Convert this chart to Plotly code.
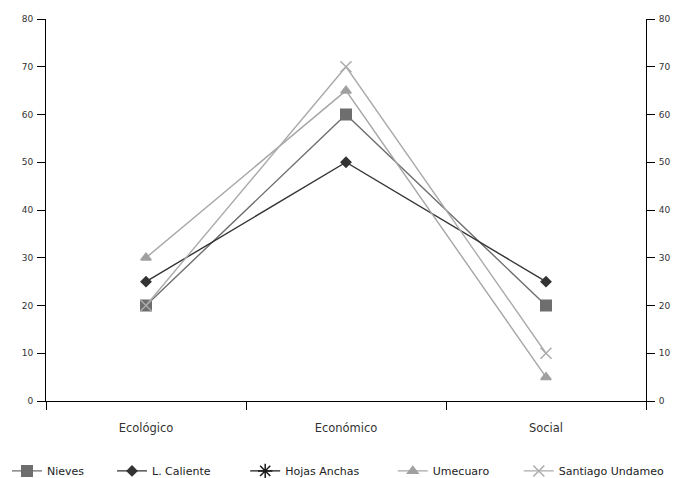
import plotly.graph_objects as go

categories = ["Ecológico", "Económico", "Social"]
nieves = [20, 60, 20]
l_caliente = [25, 50, 25]
hojas_anchas = [None, None, None]
umecuaro = [30, 65, 5]
santiago_undameo = [20, 70, 10]
y_ticks = [0, 10, 20, 30, 40, 50, 60, 70, 80]

FONT = "DejaVu Sans"

series = [
    ("Nieves", nieves, "#6e6e6e", "#6e6e6e", "square", 10.5),
    ("L. Caliente", l_caliente, "#333333", "#333333", "diamond", 7.5),
    ("Hojas Anchas", hojas_anchas, "#1a1a1a", "#1a1a1a", "asterisk-open", 12),
    ("Umecuaro", umecuaro, "#a6a6a6", "#a0a0a0", "triangle-up", 9),
    ("Santiago Undameo", santiago_undameo, "#ababab", "#ababab", "x-thin-open", 11),
]

# each series gets its own legend box so the row can be spaced freely
legend_ids = ["legend", "legend2", "legend3", "legend4", "legend5"]
legend_x = [-0.065, 0.11, 0.332, 0.578, 0.788]

fig = go.Figure()
for (name, vals, lcol, mcol, sym, size), lid in zip(series, legend_ids):
    fig.add_trace(go.Scatter(
        x=categories, y=vals, name=name, mode="lines+markers",
        line=dict(color=lcol, width=1.4),
        marker=dict(symbol=sym, size=size, color=mcol,
                    line=dict(color=mcol, width=1.5)),
        legend=lid,
    ))

# invisible trace to carry the right-hand axis
fig.add_trace(go.Scatter(x=categories, y=[None] * 3, yaxis="y2",
                         showlegend=False, hoverinfo="skip"))

legend_style = dict(orientation="h", xref="paper", y=-0.183, yref="paper",
                    yanchor="middle", xanchor="left", bgcolor="rgba(0,0,0,0)",
                    font=dict(family=FONT, size=11, color="#222222"))
legends = {lid: dict(legend_style, x=lx) for lid, lx in zip(legend_ids, legend_x)}

axis_font = dict(family=FONT, size=9, color="#333333")
fig.update_layout(
    width=686, height=478,
    margin=dict(l=46, r=40, t=19, b=77, autoexpand=False),
    plot_bgcolor="white", paper_bgcolor="white",
    showlegend=True,
    **legends,
    xaxis=dict(type="category", range=[-0.5, 2.5], tickson="boundaries",
               ticks="outside", ticklen=8, tickcolor="#000", tickwidth=1,
               showline=True, linecolor="#000", linewidth=1,
               showgrid=False, zeroline=False, automargin=False,
               tickfont=dict(family=FONT, size=11.5, color="#333333"),
               ticklabelstandoff=16),
    yaxis=dict(range=[0, 80], tickvals=y_ticks, ticks="outside", ticklen=8,
               tickcolor="#000", showline=True, linecolor="#000", linewidth=1,
               showgrid=False, zeroline=False, tickfont=axis_font,
               automargin=False, ticklabelstandoff=2),
    yaxis2=dict(range=[0, 80], tickvals=y_ticks, overlaying="y", side="right",
                ticks="outside", ticklen=8, tickcolor="#000", showline=True,
                linecolor="#000", linewidth=1, showgrid=False, zeroline=False,
                tickfont=axis_font, automargin=False, ticklabelstandoff=2),
)

fig.write_html("out.html")
